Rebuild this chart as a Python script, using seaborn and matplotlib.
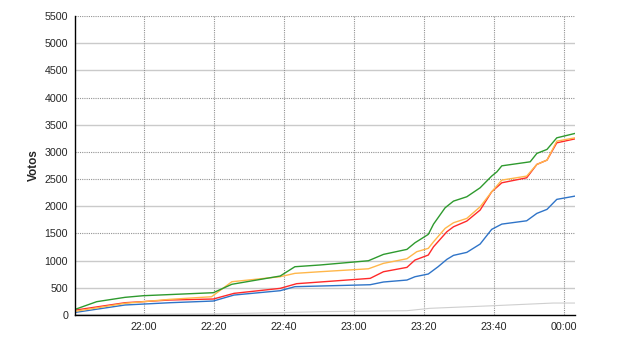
import matplotlib
matplotlib.use("Agg")
import matplotlib.pyplot as plt
import seaborn as sns
import pandas as pd

# ---- data (minutes relative to 22:00) ----
green_t = [-19.4, -13.5, -5.4, -0.2, 19.8, 25.1, 38.9, 43.1, 50.3, 64.1, 68.4, 75.1, 77.4,
           81.2, 82.7, 86.0, 88.4, 92.2, 96.0, 99.3, 100.8, 102.2, 110.3, 112.2, 115.1, 117.9, 123.1]
green_v = [110, 245, 325, 355, 410, 565, 717, 888, 920, 998, 1115, 1207, 1329,
           1483, 1672, 1972, 2095, 2175, 2340, 2555, 2634, 2744, 2818, 2972, 3046, 3259, 3340]

orange_t = [-19.4, -5.4, 7.4, 19.3, 25.1, 38.9, 43.1, 50.3, 64.1, 68.4, 75.1, 77.9, 81.2,
            82.7, 86.0, 88.4, 92.2, 96.0, 99.3, 102.2, 109.3, 112.2, 115.1, 117.9, 123.1]
orange_v = [70, 215, 288, 336, 612, 704, 766, 796, 850, 950, 1035, 1164, 1226,
            1347, 1593, 1697, 1777, 1990, 2266, 2481, 2555, 2770, 2849, 3198, 3259]

red_t = [-19.4, -5.4, 7.4, 19.8, 25.7, 38.9, 43.6, 50.3, 64.6, 68.4, 75.1, 77.4, 81.2,
         82.7, 86.5, 88.4, 92.2, 96.0, 99.3, 102.2, 109.3, 112.2, 115.1, 117.9, 123.1]
red_v = [92, 226, 276, 294, 398, 490, 576, 607, 674, 796, 876, 1011, 1103,
         1255, 1531, 1623, 1728, 1930, 2266, 2432, 2524, 2770, 2849, 3167, 3240]

blue_t = [-19.4, -5.4, 7.4, 19.8, 25.7, 38.9, 43.1, 50.3, 64.6, 68.4, 75.1, 77.4, 81.2,
          84.0, 86.5, 88.4, 92.2, 96.0, 99.3, 102.2, 109.3, 112.2, 115.1, 117.9, 123.1]
blue_v = [50, 184, 226, 257, 367, 447, 521, 533, 557, 607, 643, 704, 754,
          888, 1023, 1097, 1152, 1305, 1575, 1672, 1733, 1869, 1943, 2127, 2187]

gray_t = [-19.4, 0.0, 19.8, 40.0, 50.3, 75.1, 81.7, 99.8, 116.9, 123.1]
gray_v = [10, 15, 20, 45, 61, 79, 123, 171, 220, 220]

x_ticks = [0, 20, 40, 60, 80, 100, 120]
x_labels = ["22:00", "22:20", "22:40", "23:00", "23:20", "23:40", "00:00"]
y_ticks = list(range(0, 5501, 500))
y_label = "Votos"

series = {
    "gray": (gray_t, gray_v),
    "blue": (blue_t, blue_v),
    "red": (red_t, red_v),
    "orange": (orange_t, orange_v),
    "green": (green_t, green_v),
}
rows = []
for name, (ts, vs) in series.items():
    for t, v in zip(ts, vs):
        rows.append({"serie": name, "t": t, "v": v})
df = pd.DataFrame(rows)

palette = {
    "gray": "#cfcfcf",
    "blue": "#2f74c8",
    "red": "#ff2a2a",
    "orange": "#ffb74a",
    "green": "#2e9a2e",
}

sns.set_style("white")
plt.rcParams["font.family"] = ["Liberation Sans", "DejaVu Sans"]

fig = plt.figure(figsize=(6.4, 3.5), dpi=100)
ax = fig.add_axes([75 / 640, 35 / 350, 500 / 640, 299 / 350])

# grid
dotted_levels = [5500, 4000, 3000, 2500, 1500]
for yv in y_ticks[1:]:
    if yv in dotted_levels:
        ax.axhline(yv, color="#939393", lw=0.8, ls=(0, (1, 1)), zorder=0)
    else:
        ax.axhline(yv, color="#cacaca", lw=1.0, ls="-", zorder=0)
for xv in x_ticks:
    ax.axvline(xv, color="#939393", lw=0.8, ls=(0, (1, 1)), zorder=0)

sns.lineplot(data=df, x="t", y="v", hue="serie", palette=palette, ax=ax,
             legend=False, linewidth=1.0, estimator=None, sort=False)
ax.lines[-5].set_linewidth(0.8) if False else None
for ln in ax.get_lines():
    if ln.get_color() == palette["gray"]:
        ln.set_linewidth(0.8)

ax.set_xlim(-19.7, 123.1)
ax.set_ylim(0, 5500)
ax.set_xticks(x_ticks)
ax.set_xticklabels(x_labels)
ax.set_yticks(y_ticks)
ax.set_yticklabels([str(v) for v in y_ticks])
ax.tick_params(axis="both", labelsize=7.7, length=3, width=0.8, color="black",
               direction="out", pad=2)
ax.set_xlabel("")
ax.set_ylabel(y_label, fontsize=8.5, fontweight="bold", labelpad=3)

for s in ["top", "right"]:
    ax.spines[s].set_visible(False)
for s in ["left", "bottom"]:
    ax.spines[s].set_color("black")
    ax.spines[s].set_linewidth(1.0)
ax.grid(False)

fig.savefig("out.png", dpi=100)
